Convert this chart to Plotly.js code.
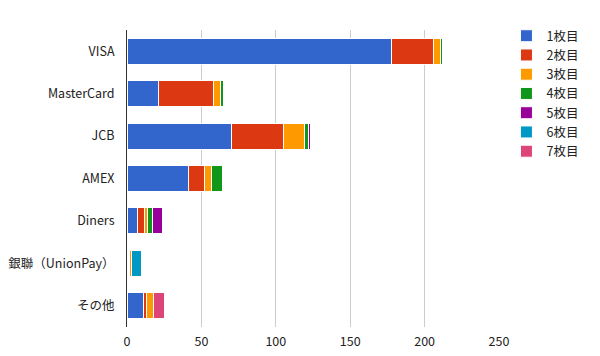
<!DOCTYPE html>
<html><head><meta charset="utf-8">
<script src="https://cdn.plot.ly/plotly-3.0.1.min.js"></script>
<style>body{margin:0;background:#fff}#c{width:600px;height:356px}</style>
</head><body><div id="c"></div>
<script>
const categories = ["VISA","MasterCard","JCB","AMEX","Diners","銀聯（UnionPay）","その他"];
const seriesNames = ["1枚目","2枚目","3枚目","4枚目","5枚目","6枚目","7枚目"];
const s1 = [178, 21, 70, 41, 7, 1, 11];
const s2 = [28, 37, 35, 11, 5, 1, 2];
const s3 = [5, 5, 14, 5, 2, 1, 5];
const s4 = [1, 2, 3, 7, 3, 0, 0];
const s5 = [0, 0, 1, 1, 7, 0, 0];
const s6 = [0, 0, 0, 0, 0, 7, 0];
const s7 = [0, 0, 0, 0, 0, 0, 7];
const xTicks = [0, 50, 100, 150, 200, 250];
const colors = ["#3366cc","#dc3912","#ff9900","#109618","#990099","#0099c6","#dd4477"];
const series = [s1,s2,s3,s4,s5,s6,s7];
const traces = series.map((v,i)=>({
  type:'bar', orientation:'h', name: seriesNames[i], y: categories, x: v,
  marker:{color: colors[i], line:{color:'#ffffff', width:1}}
}));
const font = "'Noto Sans CJK JP', 'Noto Sans', sans-serif";
Plotly.newPlot('c', traces, {
  width:600, height:356, barmode:'stack', bargap:0.39,
  margin:{l:127, r:101, t:30, b:29},
  paper_bgcolor:'#fff', plot_bgcolor:'#fff',
  font:{family:font, size:12.5, color:'#222'},
  showlegend:true,
  legend:{x:1.02, y:1.03, xanchor:'left', yanchor:'top', font:{size:12.5, color:'#222'}, itemwidth:30, tracegroupgap:0, traceorder:'normal'},
  xaxis:{range:[0,250], tickvals:xTicks, ticktext:xTicks.map(String), gridcolor:'#cccccc', zeroline:false, showline:false, ticks:'', ticklabelstandoff:5, tickfont:{size:12.5,color:'#222'}},
  yaxis:{autorange:'reversed', type:'category', showline:true, linecolor:'#333', linewidth:1, ticks:'', ticklabelstandoff:9, showgrid:false, tickfont:{size:12.5,color:'#222'}}
}, {displayModeBar:false, staticPlot:true});
</script></body></html>
